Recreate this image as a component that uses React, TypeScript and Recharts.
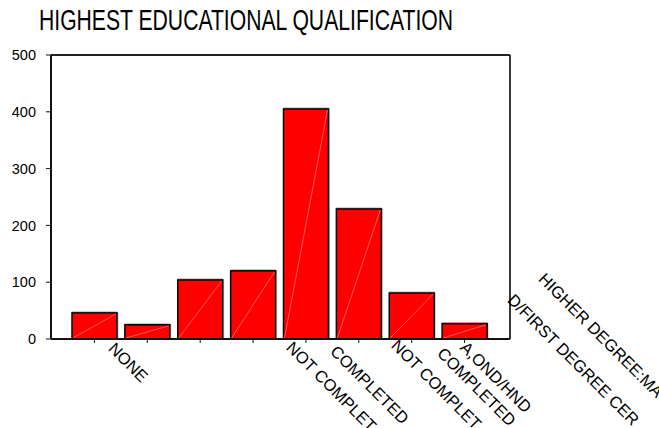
import React from 'react';
import { BarChart, Bar, XAxis, YAxis, CartesianGrid } from 'recharts';

const TITLE = 'HIGHEST EDUCATIONAL QUALIFICATION';

// one entry per bar
const CATEGORY_IDS = ['q1', 'q2', 'q3', 'q4', 'q5', 'q6', 'q7', 'q8'];
const COUNTS = [46, 25, 104, 120, 405, 229, 81, 27];

// visible axis label texts and the bar tick each one hangs from
const X_LABELS = [
  'NONE',
  'NOT COMPLET',
  'COMPLETED',
  'NOT COMPLET',
  'COMPLETED',
  'A,OND/HND',
  'D/FIRST DEGREE CER',
  'HIGHER DEGREE:MA',
];
const X_LABEL_TICK = [0, 3, 4, 5, 6, 7, 7, 7];

const Y_TICKS = [0, 100, 200, 300, 400, 500];

// layout (offsets of each label's start from its tick, in px)
const LABEL_OFFSETS: [number, number][] = [
  [13, 10.5],
  [32.3, 9.5],
  [23.4, 13.5],
  [31.5, 7.5],
  [24.6, 15.5],
  [-5.3, 9.5],
  [42, -38],
  [73, -59],
];

const data = CATEGORY_IDS.map((id, i) => ({ id, count: COUNTS[i] }));

const FONT = '"Liberation Sans", Arial, Helvetica, sans-serif';

const LabelTick = (props: any) => {
  const { x, index } = props;
  const axisY = props.y - 4;
  const items: React.ReactNode[] = [];
  X_LABELS.forEach((txt, k) => {
    if (X_LABEL_TICK[k] !== index) return;
    const px = x + LABEL_OFFSETS[k][0];
    const py = axisY + LABEL_OFFSETS[k][1];
    items.push(
      <text
        key={k}
        x={px}
        y={py}
        transform={`rotate(45 ${px} ${py})`}
        fontSize={16.5}
        fontFamily={FONT}
        fill="#000"
        textAnchor="start"
      >
        {txt}
      </text>
    );
  });
  return <g>{items}</g>;
};

const BarShape = (props: any) => {
  const { x, y, width, height } = props;
  if (height <= 0) return null;
  return (
    <g>
      <rect x={x + 1.5} y={y - 0.5} width={width} height={height + 0.5} fill="#c8c8c8" />
      <line x1={x} y1={y - 1} x2={x + width} y2={y - 1} stroke="#ff9090" strokeWidth={1} />
      <rect x={x} y={y} width={width} height={height} fill="#ff0000" stroke="#000" strokeWidth={1.5} />
      <line x1={x + 1} y1={y + height - 1} x2={x + width - 1} y2={y + 1} stroke="#ff9a9a" strokeWidth={0.6} />
    </g>
  );
};

const topEdge = (p: any) => [p.offset.top];
const rightEdge = (p: any) => [p.offset.left + p.offset.width];

export default function App() {
  return (
    <div style={{ position: 'absolute', left: 0, top: 0, width: 659, height: 428, background: '#fff', overflow: 'hidden' }}>
      <svg width={659} height={50} style={{ position: 'absolute', left: 0, top: 0 }}>
        <text
          x={39}
          y={30}
          fontSize={29}
          fontFamily={FONT}
          fill="#000"
          textLength={414}
          lengthAdjust="spacingAndGlyphs"
        >
          {TITLE}
        </text>
      </svg>
      <div style={{ position: 'absolute', left: 0, top: 0 }}>
        <BarChart
          width={659}
          height={428}
          data={data}
          margin={{ top: 55, right: 149, bottom: 0, left: 0 }}
          style={{ overflow: 'visible' }}
        >
          <CartesianGrid
            stroke="#222"
            strokeWidth={1.8}
            horizontalCoordinatesGenerator={topEdge}
            verticalCoordinatesGenerator={rightEdge}
          />
          <XAxis
            dataKey="id"
            type="category"
            height={89}
            padding={{ left: 17, right: 19 }}
            axisLine={{ stroke: '#111', strokeWidth: 2 }}
            tickLine={{ stroke: '#111', strokeWidth: 1 }}
            tickSize={4}
            tickMargin={0}
            interval={0}
            tick={<LabelTick />}
          />
          <YAxis
            domain={[0, 500]}
            ticks={Y_TICKS}
            width={51}
            interval={0}
            axisLine={{ stroke: '#111', strokeWidth: 2 }}
            tickLine={{ stroke: '#111', strokeWidth: 1 }}
            tickSize={5}
            tickMargin={10}
            tick={{ fontSize: 14.5, fontFamily: FONT, fill: '#000' }}
          />
          <Bar dataKey="count" barSize={45} shape={<BarShape />} isAnimationActive={false} />
        </BarChart>
      </div>
    </div>
  );
}
